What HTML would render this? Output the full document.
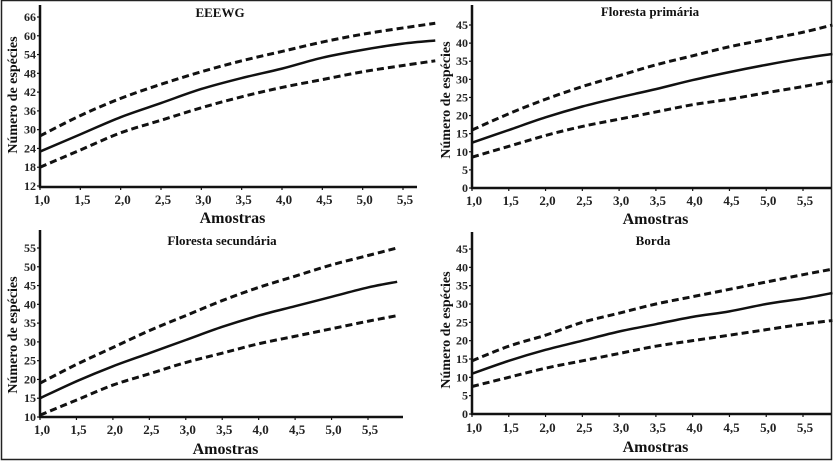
<!DOCTYPE html>
<html><head><meta charset="utf-8">
<style>
html,body{margin:0;padding:0;background:#fff;}
svg{display:block;font-family:"Liberation Serif",serif;font-weight:bold;}
</style></head>
<body>
<svg id="c" width="834" height="463" viewBox="0 0 834 463">
<rect x="1.5" y="0.5" width="830" height="459" fill="none" stroke="#222" stroke-width="1.5"/>
</svg>
<script>
const xTicks = [1.0,1.5,2.0,2.5,3.0,3.5,4.0,4.5,5.0,5.5];
const xSamples = [1,1.5,2,2.5,3,3.5,4,4.5,5,5.5,5.9];
const titles = ["EEEWG","Floresta primária","Floresta secundária","Borda"];
const yTicksA = [12,18,24,30,36,42,48,54,60,66];
const yTicksB = [0,5,10,15,20,25,30,35,40,45];
const yTicksC = [10,15,20,25,30,35,40,45,50,55];
const yTicksD = [0,5,10,15,20,25,30,35,40,45];
const meanA = [23,28.5,34,38.5,43,46.5,49.5,53,55.5,57.5,58.5];
const upperA = [28,34.5,40,44.5,48.5,52,55,58,60.5,62.5,64];
const lowerA = [18,23.5,29,33,37,40.5,43.5,46,48.5,50.5,52];
const meanB = [12.5,16,19.5,22.5,25,27.3,29.8,32,34,35.8,37];
const upperB = [16,20.5,24.5,28,31,34,36.5,39,41,43,45];
const lowerB = [8.5,11.5,14.5,17,19,21,23,24.5,26.3,28,29.5];
const meanC = [15,19.5,23.5,27,30.5,34,37,39.5,42,44.5,46];
const upperC = [19,24,28.5,33,37,41,44.5,47.5,50.5,53,55];
const lowerC = [10.5,14.5,18.5,21.5,24.5,27,29.5,31.5,33.5,35.5,37];
const meanD = [11,14.5,17.5,20,22.5,24.5,26.5,28,30,31.5,33];
const upperD = [14.5,18.5,21.5,25,27.5,30,32,34,36,38,39.5];
const lowerD = [7.5,10,12.5,14.5,16.5,18.5,20,21.5,23,24.5,25.5];

const NS="http://www.w3.org/2000/svg";
const svg=document.getElementById('c');
function mk(tag,attrs,parent){const e=document.createElementNS(NS,tag);for(const k in attrs)e.setAttribute(k,attrs[k]);(parent||svg).appendChild(e);return e;}

const layouts=[
 {x0:40,x55:403,xEnd:417,yBase:187,yTop:5,yMinPx:186,yMaxPx:17,tx:220,ty:17,ylx:12,yly:95,lab:200,amo:218},
 {x0:472,x55:803,xEnd:831,yBase:188,yTop:5,yMinPx:188,yMaxPx:25,tx:650,ty:16,ylx:445,yly:100,lab:201,amo:219},
 {x0:40,x55:368,xEnd:403,yBase:417,yTop:230,yMinPx:417,yMaxPx:248,tx:222,ty:245,ylx:12,yly:335,lab:430,amo:449},
 {x0:472,x55:803,xEnd:831,yBase:414,yTop:232,yMinPx:414,yMaxPx:249,tx:653,ty:245,ylx:445,yly:330,lab:428,amo:447}
];
const yTickSets=[yTicksA,yTicksB,yTicksC,yTicksD];
const series=[[meanA,upperA,lowerA],[meanB,upperB,lowerB],[meanC,upperC,lowerC],[meanD,upperD,lowerD]];

layouts.forEach((L,i)=>{
  const g=mk('g',{});
  
  
  const yt=yTickSets[i];
  const ymin=yt[0], ymax=yt[yt.length-1];
  const xs=v=>L.x0+(v-1)*(L.x55-L.x0)/4.5;
  const ys=v=>L.yMinPx+(v-ymin)*(L.yMaxPx-L.yMinPx)/(ymax-ymin);
  // axes
  const ya=mk('line',{x1:L.x0,y1:L.yTop,x2:L.x0,y2:L.yBase+1,stroke:'#111','stroke-width':2.5},g);
  
  
  const xa=mk('line',{x1:L.x0-1,y1:L.yBase,x2:L.xEnd,y2:L.yBase,stroke:'#111','stroke-width':2.5},g);
  
  
  yt.forEach(v=>{
    mk('line',{x1:L.x0-3,y1:ys(v),x2:L.x0,y2:ys(v),stroke:'#111','stroke-width':1.2},g);
    const t=mk('text',{x:L.x0-4,y:ys(v)+4,'text-anchor':'end','font-size':12,fill:'#222'},g);
    t.textContent=v;
    
    
  });
  xTicks.forEach(v=>{
    mk('line',{x1:xs(v),y1:L.yBase,x2:xs(v),y2:L.yBase+3,stroke:'#111','stroke-width':1.2},g);
    const t=mk('text',{x:xs(v)+2,y:L.lab+4,'text-anchor':'middle','font-size':13,fill:'#222'},g);
    t.textContent=v.toFixed(1).replace('.',',');
    
    
  });
  const ti=mk('text',{x:L.tx,y:L.ty,'text-anchor':'middle','font-size':13,fill:'#111'},g);
  ti.textContent=titles[i];
  
  
  const am=mk('text',{x:(L.x0+L.xEnd)/2+4,y:L.amo+5,'text-anchor':'middle','font-size':16,fill:'#111'},g);
  am.textContent='Amostras';
  
  
  const yl=mk('text',{x:0,y:0,'text-anchor':'middle','font-size':14,fill:'#111',transform:`translate(${L.ylx+5},${L.yly}) rotate(-90)`},g);
  yl.textContent='Número de espécies';
  
  
  const names=['mean-curve','upper-ci-curve','lower-ci-curve'];
  series[i].forEach((arr,k)=>{
    const pts=arr.map((v,j)=>[xs(xSamples[j]),ys(v)]);
    let d='M'+pts[0][0]+','+pts[0][1];
    for(let j=0;j<pts.length-1;j++){
      const p0=pts[Math.max(j-1,0)],p1=pts[j],p2=pts[j+1],p3=pts[Math.min(j+2,pts.length-1)];
      const c1=[p1[0]+(p2[0]-p0[0])/6,p1[1]+(p2[1]-p0[1])/6];
      const c2=[p2[0]-(p3[0]-p1[0])/6,p2[1]-(p3[1]-p1[1])/6];
      d+=` C${c1[0]},${c1[1]} ${c2[0]},${c2[1]} ${p2[0]},${p2[1]}`;
    }
    const p=mk('path',{d:d,fill:'none',stroke:'#111','stroke-width':k===0?2.5:3,'stroke-dasharray':k===0?'none':'7,4'},g);
    
    
  });
});
</script>
</body></html>
